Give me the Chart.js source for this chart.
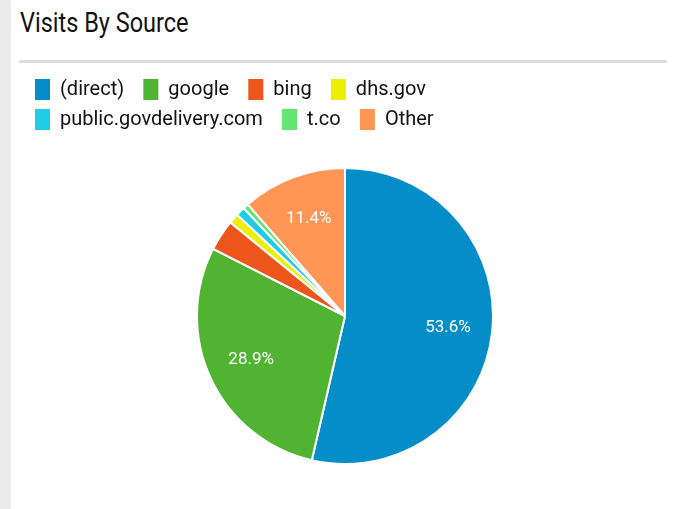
<!DOCTYPE html>
<html>
<head>
<meta charset="utf-8">
<script src="https://cdn.jsdelivr.net/npm/chart.js@4/dist/chart.umd.min.js"></script>
<style>
  body { margin: 0; width: 680px; height: 509px; background: #fff; position: relative; overflow: hidden; font-family: Roboto, sans-serif; }
  .strip { position: absolute; left: 0; top: 0; width: 11px; height: 509px; background: #ececec; }
  .title { position: absolute; left: 20px; top: 7px; font-size: 27px; color: #111; transform: scaleX(0.87); transform-origin: left top; white-space: nowrap; }
  .rule { position: absolute; left: 19px; top: 60px; width: 648px; height: 3px; background: #dcdcdc; }
  .wrap { position: absolute; left: 26px; top: 70px; width: 638px; height: 422px; }
</style>
</head>
<body>
<div class="strip"></div>
<div class="title">Visits By Source</div>
<div class="rule"></div>
<div class="wrap"><canvas id="sourceChart"></canvas></div>
<script>
// visits share by source, percent
const sources = ['(direct)', 'google', 'bing', 'dhs.gov', 'public.govdelivery.com', 't.co', 'Other'];
const shares = [53.6, 28.9, 3.4, 1.1, 1.0, 0.6, 11.4];
const colors = ['#058dc7', '#50b432', '#ed561b', '#edef00', '#24cbe5', '#64e572', '#ff9655'];

// draw the percent inside the bigger slices
const sliceLabels = {
    id: 'sliceLabels',
    afterDatasetsDraw(chart) {
        const ctx = chart.ctx;
        const meta = chart.getDatasetMeta(0);
        ctx.save();
        ctx.font = '17px Roboto';
        ctx.fillStyle = '#fff';
        ctx.textAlign = 'center';
        ctx.textBaseline = 'middle';
        meta.data.forEach((arc, i) => {
            if (shares[i] < 5) return;
            const mid = (arc.startAngle + arc.endAngle) / 2;
            const r = arc.outerRadius * 0.7;
            ctx.fillText(shares[i].toFixed(1) + '%', arc.x + Math.cos(mid) * r, arc.y + Math.sin(mid) * r);
        });
        ctx.restore();
    }
};

new Chart(document.getElementById('sourceChart'), {
    type: 'pie',
    data: {
        labels: sources,
        datasets: [{
            data: shares,
            backgroundColor: colors,
            borderColor: '#fff',
            borderWidth: 2,
            radius: 148
        }]
    },
    options: {
        responsive: true,
        maintainAspectRatio: false,
        animation: false,
        layout: { padding: 0 },
        plugins: {
            tooltip: { enabled: false },
            legend: {
                position: 'top',
                align: 'start',
                labels: {
                    boxWidth: 15,
                    boxHeight: 21,
                    padding: 9,
                    color: '#111',
                    font: { family: 'Roboto', size: 20 },
                    generateLabels(chart) {
                        const items = Chart.overrides.pie.plugins.legend.labels.generateLabels(chart);
                        items.forEach(it => { it.text = it.text + '\u2002'; it.lineWidth = 0; });
                        return items;
                    }
                }
            }
        }
    },
    plugins: [sliceLabels]
});
</script>
</body>
</html>
